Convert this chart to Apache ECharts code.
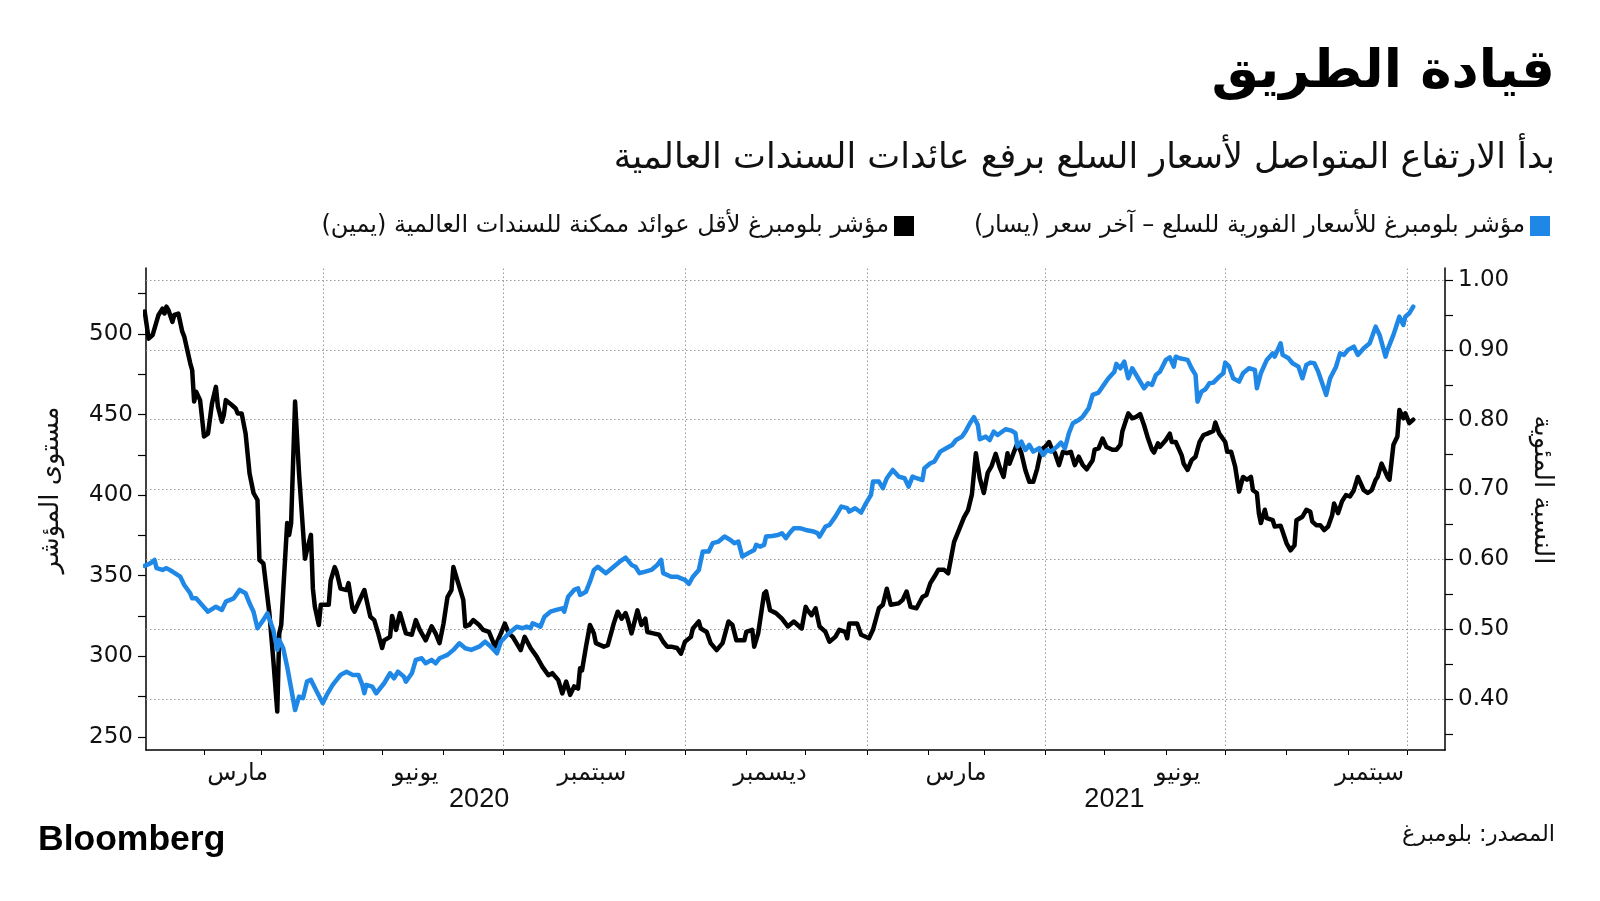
<!DOCTYPE html>
<html><head><meta charset="utf-8">
<script src="https://cdn.jsdelivr.net/npm/echarts@6/dist/echarts.min.js"></script>
<style>html,body{margin:0;padding:0;background:#fff}#c{width:1600px;height:901px}</style>
</head><body><div id="c"></div>
<script>
// Days counted from 2020-01-01
const blackDay = [1,3,5,8,10,11,12,13,15,16,18,20,21,24,25,26,27,28,29,31,33,35,37,38,40,41,42,45,47,48,50,52,54,56,58,59,61,64,66,68,69,70,73,74,75,77,79,82,83,85,86,87,89,90,94,95,97,98,100,103,104,106,107,110,112,115,117,119,121,122,125,126,128,130,133,136,138,140,143,146,148,150,152,154,156,157,159,162,163,165,167,170,172,175,178,181,183,185,187,191,193,196,197,199,202,205,207,210,212,214,216,218,220,221,222,224,226,228,229,233,235,238,240,242,244,245,247,250,252,254,255,258,261,263,265,267,270,272,274,277,278,281,282,285,287,290,293,296,298,300,304,305,308,309,311,314,315,317,320,323,326,329,333,335,336,338,340,342,345,347,350,352,355,356,357,361,363,367,369,372,374,376,378,382,384,386,388,391,394,396,398,400,402,405,407,410,412,415,417,419,421,423,425,427,429,431,433,435,437,438,440,442,444,446,448,450,452,454,456,458,459,461,463,465,467,469,471,473,475,477,480,481,483,485,487,490,492,494,495,498,500,502,504,506,508,510,511,513,514,517,519,520,522,525,526,528,530,532,534,536,538,541,542,544,545,547,548,550,552,554,556,558,560,561,563,564,565,567,568,571,572,575,576,578,580,582,583,586,588,590,591,593,595,597,599,601,602,604,606,608,610,612,614,615,617,619,621,623,624,626,629,630,632,634,635,637,638,640,642];
const blackValue = [0.955,0.916,0.921,0.950,0.959,0.952,0.962,0.957,0.940,0.950,0.952,0.926,0.919,0.881,0.871,0.826,0.840,0.840,0.828,0.776,0.780,0.823,0.847,0.819,0.797,0.807,0.828,0.821,0.816,0.809,0.809,0.780,0.723,0.695,0.685,0.599,0.594,0.523,0.456,0.382,0.494,0.506,0.652,0.635,0.652,0.826,0.723,0.601,0.613,0.635,0.558,0.532,0.506,0.535,0.535,0.570,0.589,0.582,0.558,0.556,0.566,0.530,0.525,0.544,0.556,0.518,0.513,0.494,0.473,0.484,0.489,0.519,0.499,0.523,0.494,0.492,0.513,0.499,0.484,0.504,0.494,0.480,0.508,0.546,0.556,0.589,0.570,0.542,0.504,0.506,0.513,0.506,0.499,0.496,0.475,0.494,0.508,0.494,0.489,0.470,0.489,0.473,0.475,0.461,0.446,0.434,0.437,0.427,0.408,0.425,0.406,0.418,0.415,0.444,0.441,0.475,0.506,0.494,0.480,0.475,0.477,0.508,0.525,0.515,0.523,0.515,0.494,0.527,0.506,0.515,0.496,0.494,0.492,0.482,0.475,0.475,0.473,0.465,0.482,0.489,0.501,0.511,0.501,0.496,0.480,0.470,0.480,0.511,0.506,0.484,0.484,0.496,0.499,0.475,0.494,0.551,0.554,0.527,0.523,0.515,0.504,0.511,0.501,0.532,0.527,0.520,0.530,0.504,0.496,0.482,0.489,0.499,0.496,0.487,0.508,0.508,0.492,0.487,0.499,0.530,0.535,0.558,0.535,0.537,0.542,0.554,0.532,0.530,0.546,0.549,0.566,0.575,0.585,0.585,0.580,0.625,0.639,0.660,0.670,0.693,0.752,0.716,0.695,0.724,0.734,0.751,0.732,0.718,0.752,0.737,0.752,0.766,0.752,0.728,0.711,0.711,0.730,0.757,0.761,0.768,0.761,0.752,0.735,0.754,0.752,0.754,0.735,0.747,0.735,0.729,0.742,0.757,0.759,0.773,0.761,0.757,0.757,0.764,0.783,0.809,0.802,0.804,0.808,0.792,0.773,0.757,0.753,0.766,0.761,0.771,0.780,0.768,0.768,0.749,0.737,0.728,0.742,0.747,0.768,0.778,0.780,0.784,0.796,0.780,0.780,0.768,0.754,0.754,0.733,0.697,0.718,0.714,0.718,0.699,0.695,0.666,0.652,0.671,0.659,0.656,0.647,0.648,0.640,0.623,0.613,0.620,0.656,0.661,0.671,0.668,0.654,0.649,0.649,0.642,0.647,0.663,0.680,0.666,0.683,0.692,0.690,0.699,0.718,0.716,0.699,0.695,0.699,0.714,0.718,0.737,0.718,0.714,0.764,0.776,0.814,0.802,0.809,0.795,0.800];
const blueDay = [1,4,6,7,10,12,15,16,19,21,24,25,27,30,33,34,37,40,42,46,49,52,54,56,58,61,63,64,66,68,69,71,73,75,77,79,81,83,85,88,91,93,96,100,103,106,109,111,112,113,116,118,120,122,125,127,129,132,133,136,138,141,143,146,148,150,154,157,160,163,166,170,173,176,179,181,185,189,192,194,196,197,201,203,206,209,212,213,215,218,220,221,224,226,228,230,234,238,241,244,247,249,251,254,257,260,262,263,267,270,272,274,276,278,281,283,286,288,291,294,297,299,301,303,306,309,310,312,314,315,318,321,323,325,327,329,332,335,336,339,341,342,345,347,350,353,356,357,360,363,365,368,369,372,374,376,379,382,385,387,389,391,394,395,398,400,403,406,409,411,414,416,418,420,422,423,426,428,430,432,436,439,441,442,444,446,448,450,453,455,457,459,462,464,466,468,470,473,475,478,480,483,485,488,491,492,494,496,498,500,501,503,506,508,510,512,514,517,519,521,522,524,528,530,532,533,535,537,539,541,544,546,547,549,551,554,556,559,562,563,565,568,571,572,575,576,579,581,584,586,588,590,592,594,596,598,600,603,605,607,609,612,614,617,620,623,625,628,629,632,635,637,638,640,642];
const blueValue = [356.1,357.8,359.8,354.7,353.6,354.7,352.6,351.6,349.4,344.3,339.1,336.0,336.0,331.9,327.7,327.1,330.8,328.8,333.9,336.0,341.2,339.1,332.9,327.7,317.4,322.6,326.7,325.7,316.4,304.0,310.2,305.0,293.6,280.2,266.7,275.0,274.0,284.3,285.4,278.1,270.9,276.1,282.3,288.5,290.5,288.5,288.5,282.3,277.1,282.3,281.2,277.1,280.2,283.3,289.5,286.4,290.5,287.4,284.3,289.5,297.8,298.8,295.7,297.8,295.7,298.8,300.9,304.0,308.1,305.0,304.0,306.0,309.1,306.0,301.9,309.0,314.3,318.4,317.4,318.4,317.4,320.5,318.4,324.6,327.7,328.8,329.8,327.7,337.0,341.2,342.2,338.1,340.1,346.3,353.6,355.6,351.6,355.6,358.7,361.2,356.7,355.6,351.6,352.6,353.6,356.7,359.8,351.6,349.4,349.4,348.4,347.4,344.9,349.4,353.6,365.0,365.0,370.2,371.2,374.3,372.2,370.2,371.2,361.9,364.0,366.0,369.1,368.1,369.1,374.3,374.7,375.3,376.4,373.3,376.7,379.5,379.5,378.4,377.4,377.4,376.4,374.3,380.5,381.5,386.7,392.9,391.9,389.8,391.9,389.2,393.9,400.1,408.4,408.4,404.3,410.5,415.6,411.5,410.5,405.3,411.5,410.5,409.4,416.7,419.8,420.8,427.0,429.1,431.1,434.2,436.3,440.0,444.6,448.4,443.5,434.7,436.3,434.2,439.4,437.3,440.9,440.0,438.4,430.1,433.2,428.0,431.1,427.0,429.1,424.9,428.0,427.0,430.1,432.6,429.1,438.4,444.6,446.6,448.7,453.9,462.2,463.6,467.3,472.5,476.6,481.4,478.7,482.8,472.5,478.7,477.7,472.5,466.3,469.4,468.4,474.6,476.6,483.9,485.5,479.7,485.9,484.9,483.9,478.7,474.6,458.0,464.2,465.7,469.4,469.8,473.5,475.6,482.2,479.7,472.5,470.4,475.6,478.7,477.7,466.3,475.6,483.9,488.0,485.9,494.2,487.0,484.9,481.8,479.7,472.5,480.8,482.2,481.8,476.6,469.4,462.2,472.5,479.7,488.0,487.0,490.1,492.1,487.0,491.1,494.2,504.5,499.4,485.9,490.1,499.4,510.7,505.6,510.7,512.8,516.9];

const monthTickDates = ['2020-02-01','2020-03-01','2020-04-01','2020-05-01','2020-06-01','2020-07-01','2020-08-01','2020-09-01','2020-10-01','2020-11-01','2020-12-01','2021-01-01','2021-02-01','2021-03-01','2021-04-01','2021-05-01','2021-06-01','2021-07-01','2021-08-01','2021-09-01','2021-10-01'];
const gridDates = ['2020-04-01','2020-07-01','2020-10-01','2021-01-01','2021-04-01','2021-07-01','2021-10-01'];
const monthLabelDates = ['2020-02-18','2020-05-18','2020-08-15','2020-11-13','2021-02-15','2021-06-07','2021-09-12'];
const monthLabels = ['مارس','يونيو','سبتمبر','ديسمبر','مارس','يونيو','سبتمبر'];
const yearLabelDates = ['2020-06-19','2021-05-06'];
const yearLabels = ['2020','2021'];
const leftLabels = [250,300,350,400,450,500];
const leftTicks = [250,275,300,325,350,375,400,425,450,475,500,525];
const rightLabels = [0.4,0.5,0.6,0.7,0.8,0.9,1.0];
const rightTicks = [0.35,0.4,0.45,0.5,0.55,0.6,0.65,0.7,0.75,0.8,0.85,0.9,0.95,1.0];

const titleText = 'قيادة الطريق';
const subtitleText = 'بدأ الارتفاع المتواصل لأسعار السلع برفع عائدات السندات العالمية';
const blueName = 'مؤشر بلومبرغ للأسعار الفورية للسلع – آخر سعر (يسار)';
const blackName = 'مؤشر بلومبرغ لأقل عوائد ممكنة للسندات العالمية (يمين)';
const leftAxisName = 'مستوى المؤشر';
const rightAxisName = 'النسبة المئوية';
const sourceText = 'المصدر: بلومبرغ';

const RLM = '\u200F';
// day offset from 2020-01-01 for a 'YYYY-MM-DD' string
const dayOf = s => { const p = s.split('-').map(Number); return Math.round((Date.UTC(p[0], p[1] - 1, p[2]) - Date.UTC(2020, 0, 1)) / 86400000); };

const blackData = blackDay.map((d, i) => [d, blackValue[i]]);
const blueData = blueDay.map((d, i) => [d, blueValue[i]]);
const monthLabelMap = {}; monthLabelDates.forEach((s, i) => monthLabelMap[dayOf(s)] = monthLabels[i]);
const yearLabelMap = {}; yearLabelDates.forEach((s, i) => yearLabelMap[dayOf(s)] = yearLabels[i]);

const xMin = 1.67, xMax = 658.05;
const AR = 'DejaVu Sans';
const gridLine = { type: [1.5, 2.5], color: '#999', width: 1 };

const chart = echarts.init(document.getElementById('c'), null, { renderer: 'canvas' });
chart.setOption({
  animation: false,
  backgroundColor: '#fff',
  textStyle: { fontFamily: AR },
  title: [
    { text: titleText, right: 45, top: 47, padding: 0, textStyle: { fontFamily: AR, fontSize: 53, fontWeight: 'bold', color: '#000' } },
    { text: subtitleText, right: 45, top: 141, padding: 0, textStyle: { fontFamily: AR, fontSize: 35, fontWeight: 'normal', color: '#111' } },
    { text: 'Bloomberg', left: 38, top: 822, padding: 0, textStyle: { fontFamily: 'Liberation Sans', fontSize: 35.5, fontWeight: 'bold', color: '#000' } },
    { text: sourceText, right: 45, top: 824, padding: 0, textStyle: { fontFamily: AR, fontSize: 22.5, fontWeight: 'normal', color: '#111' } }
  ],
  legend: {
    right: 45, top: 209, align: 'right', orient: 'horizontal',
    itemWidth: 20, itemHeight: 20, itemGap: 60, icon: 'rect',
    formatter: n => n + RLM,
    textStyle: { fontFamily: AR, fontSize: 24, color: '#111' },
    data: [blackName, blueName]
  },
  grid: { left: 146, right: 155, top: 268, bottom: 151, containLabel: false, outerBoundsMode: 'none' },
  xAxis: [
    {
      type: 'value', min: xMin, max: xMax, position: 'bottom',
      axisLine: { show: true, onZero: false, lineStyle: { color: '#000', width: 1.5 } },
      axisTick: { show: true, inside: false, length: 5, customValues: monthTickDates.map(dayOf), lineStyle: { color: '#000', width: 1 } },
      axisLabel: { show: true, customValues: monthLabelDates.map(dayOf), margin: 12, fontFamily: AR, fontSize: 24, color: '#111', formatter: v => monthLabelMap[Math.round(v)] || '' },
      splitLine: { show: false }
    },
    {
      type: 'value', min: xMin, max: xMax, position: 'bottom', gridIndex: 0,
      axisLine: { show: false, onZero: false }, axisTick: { show: false },
      axisLabel: { show: true, customValues: yearLabelDates.map(dayOf), margin: 36, fontFamily: 'Liberation Sans', fontSize: 27, color: '#111', formatter: v => yearLabelMap[Math.round(v)] || '' },
      splitLine: { show: false }
    }
  ],
  yAxis: [
    {
      type: 'value', position: 'left', min: 241.9, max: 540.9,
      name: leftAxisName, nameLocation: 'middle', nameRotate: 90, nameGap: 82,
      nameTextStyle: { fontFamily: AR, fontSize: 26, color: '#111', padding: [0, 0, 0, 38] },
      axisLine: { show: true, onZero: false, lineStyle: { color: '#000', width: 1.5 } },
      axisTick: { show: true, inside: false, length: 8, customValues: leftTicks, lineStyle: { color: '#000', width: 1.2 } },
      axisLabel: { show: true, customValues: leftLabels, margin: 13, fontFamily: AR, fontSize: 23, color: '#111', formatter: v => String(v) },
      splitLine: { show: false }
    },
    {
      type: 'value', position: 'right', min: 0.327, max: 1.0172,
      name: rightAxisName, nameLocation: 'middle', nameRotate: -90, nameGap: 84,
      nameTextStyle: { fontFamily: AR, fontSize: 26, color: '#111', padding: [0, 38, 0, 0] },
      axisLine: { show: true, onZero: false, lineStyle: { color: '#000', width: 1.5 } },
      axisTick: { show: true, inside: false, length: 8, customValues: rightTicks, lineStyle: { color: '#000', width: 1.2 } },
      axisLabel: { show: true, customValues: rightLabels, margin: 13, fontFamily: AR, fontSize: 23, color: '#111', formatter: v => v.toFixed(2) },
      splitLine: { show: false }
    }
  ],
  series: [
    {
      name: blackName, type: 'line', xAxisIndex: 0, yAxisIndex: 1, data: blackData,
      showSymbol: false, symbol: 'none', color: '#000', z: 3,
      lineStyle: { color: '#000', width: 4.5, join: 'round', cap: 'round' },
      markLine: {
        silent: true, symbol: 'none', z: 1, animation: false,
        label: { show: false }, lineStyle: gridLine,
        data: rightLabels.map(v => ({ yAxis: v })).concat(gridDates.map(s => ({ xAxis: dayOf(s) })))
      }
    },
    {
      name: blueName, type: 'line', xAxisIndex: 0, yAxisIndex: 0, data: blueData,
      showSymbol: false, symbol: 'none', color: '#1f88e6', z: 4,
      lineStyle: { color: '#1f88e6', width: 4.5, join: 'round', cap: 'round' }
    }
  ]
});
</script>
</body></html>
